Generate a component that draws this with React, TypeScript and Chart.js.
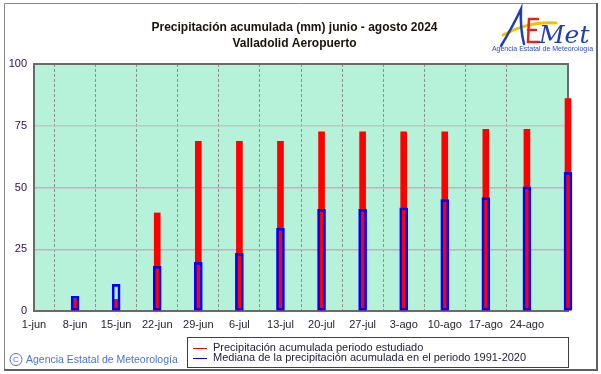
import React, { useEffect, useRef } from "react";
import { Chart, registerables } from "chart.js";

Chart.register(...registerables);

// ---- Data ----
const dayOffsets = [7, 14, 21, 28, 35, 42, 49, 56, 63, 70, 77, 84, 91];
const observedPrecip = [4.7, 4.7, 39.7, 68.7, 68.7, 68.7, 72.5, 72.5, 72.5, 72.5, 73.6, 73.6, 86.0];
const medianPrecip = [5.9, 10.8, 18.1, 19.7, 23.4, 33.5, 41.2, 41.2, 41.8, 45.1, 45.9, 50.3, 56.1];
const xTickLabels = ["1-jun", "8-jun", "15-jun", "22-jun", "29-jun", "6-jul", "13-jul", "20-jul", "27-jul", "3-ago", "10-ago", "17-ago", "24-ago"];
const yTicks = [0, 25, 50, 75, 100];
const titleLines = ["Precipitación acumulada (mm) junio - agosto 2024", "Valladolid Aeropuerto"];
const seriesLabels = ["Precipitación acumulada periodo estudiado", "Mediana de la precipitación acumulada en el periodo 1991-2020"];
const footerText = "Agencia Estatal de Meteorología";

const FONT = "'Liberation Sans', Arial, sans-serif";
const W = 601;
const H = 374;

const decorPlugin = {
  id: "decor",
  beforeDraw(chart: any) {
    const { ctx, chartArea } = chart;
    ctx.save();
    ctx.fillStyle = "#ffffff";
    ctx.fillRect(0, 0, W, H);
    // plot background
    ctx.fillStyle = "#b6f2da";
    ctx.fillRect(chartArea.left, chartArea.top, chartArea.right - chartArea.left, chartArea.bottom - chartArea.top);
    ctx.restore();
  },
  beforeDatasetsDraw(chart: any) {
    const { ctx, chartArea } = chart;
    ctx.save();
    ctx.strokeStyle = "#6a6a6a";
    ctx.lineWidth = 2;
    ctx.strokeRect(chartArea.left, chartArea.top, chartArea.right - chartArea.left, chartArea.bottom - chartArea.top);
    ctx.restore();
  },
  afterDraw(chart: any) {
    const { ctx } = chart;
    ctx.save();
    // outer frame
    ctx.strokeStyle = "#8a8a8a";
    ctx.lineWidth = 1;
    ctx.beginPath();
    ctx.moveTo(4.5, 370);
    ctx.lineTo(4.5, 3.5);
    ctx.lineTo(597, 3.5);
    ctx.stroke();
    ctx.strokeStyle = "#606060";
    ctx.lineWidth = 2;
    ctx.beginPath();
    ctx.moveTo(597, 3);
    ctx.lineTo(597, 370);
    ctx.lineTo(4, 370);
    ctx.stroke();

    // title
    const cx = 294.5;
    ctx.fillStyle = "#1a1208";
    ctx.font = `bold 12px ${FONT}`;
    ctx.textAlign = "center";
    ctx.textBaseline = "middle";
    ctx.fillText(titleLines[0], cx, 27.5);
    ctx.fillText(titleLines[1], cx, 43.5);

    // legend
    const lx = 187, ly = 337, lw = 381, lh = 30;
    ctx.fillStyle = "#ffffff";
    ctx.fillRect(lx, ly, lw, lh);
    ctx.strokeStyle = "#404040";
    ctx.lineWidth = 1;
    ctx.strokeRect(lx + 0.5, ly + 0.5, lw, lh);
    const ds = chart.data.datasets;
    const legendItems = [
      { label: ds[1].label, color: ds[1].backgroundColor, y: 348 },
      { label: ds[0].label, color: ds[0].borderColor, y: 358 },
    ];
    ctx.font = `11px ${FONT}`;
    ctx.textAlign = "left";
    for (const it of legendItems) {
      ctx.strokeStyle = it.color;
      ctx.lineWidth = 1;
      ctx.beginPath();
      ctx.moveTo(193, Math.round(it.y) + 0.5);
      ctx.lineTo(207, Math.round(it.y) + 0.5);
      ctx.stroke();
      ctx.fillStyle = "#1c1c3a";
      ctx.fillText(it.label, 213, it.y);
    }

    // footer
    ctx.strokeStyle = "#4a72d4";
    ctx.fillStyle = "#4a72d4";
    ctx.lineWidth = 1;
    ctx.beginPath();
    ctx.arc(16, 359.5, 6, 0, Math.PI * 2);
    ctx.stroke();
    ctx.font = `8px ${FONT}`;
    ctx.textAlign = "center";
    ctx.fillText("C", 16, 360);
    ctx.font = `10.5px ${FONT}`;
    ctx.textAlign = "left";
    ctx.fillText(footerText, 26, 360);

    // logo
    ctx.lineCap = "round";
    // yellow swoosh
    ctx.strokeStyle = "#f2c200";
    ctx.lineWidth = 3;
    ctx.beginPath();
    ctx.moveTo(503, 35);
    ctx.quadraticCurveTo(528, 21, 556, 23);
    ctx.stroke();
    // A
    ctx.strokeStyle = "#1f3fae";
    ctx.lineWidth = 2.5;
    ctx.beginPath();
    ctx.moveTo(501, 46);
    ctx.quadraticCurveTo(513, 26, 521, 9);
    ctx.quadraticCurveTo(520, 28, 524, 44);
    ctx.stroke();
    // E
    ctx.strokeStyle = "#e0261a";
    ctx.lineWidth = 2.5;
    ctx.beginPath();
    ctx.moveTo(538, 19);
    ctx.lineTo(529, 19);
    ctx.lineTo(528, 42);
    ctx.lineTo(539, 42);
    ctx.moveTo(528, 30);
    ctx.lineTo(536, 30);
    ctx.stroke();
    // Met
    ctx.fillStyle = "#1f3fae";
    ctx.font = `italic 25px 'DejaVu Serif', serif`;
    ctx.textAlign = "left";
    ctx.textBaseline = "alphabetic";
    ctx.fillText("Met", 539, 43);
    ctx.font = `7px ${FONT}`;
    ctx.fillStyle = "#2a4cb8";
    ctx.textAlign = "center";
    ctx.textBaseline = "middle";
    ctx.fillText(footerText, 542.5, 49.5);
    ctx.restore();
  },
};

export default function App() {
  const canvasRef = useRef<HTMLCanvasElement | null>(null);

  useEffect(() => {
    document.body.style.margin = "0";
    const canvas = canvasRef.current;
    if (!canvas) return;
    const chart = new Chart(canvas, {
      type: "bar",
      data: {
        datasets: [
          {
            label: seriesLabels[1],
            data: dayOffsets.map((d, i) => ({ x: d, y: medianPrecip[i] })),
            backgroundColor: "rgba(0,0,0,0)",
            borderColor: "#0000ff",
            borderWidth: 2,
            borderSkipped: false,
            barThickness: 8,
            grouped: false,
            clip: false,
          } as any,
          {
            label: seriesLabels[0],
            data: dayOffsets.map((d, i) => ({ x: d, y: observedPrecip[i] })),
            backgroundColor: "#ff0000",
            borderWidth: 0,
            barThickness: 6,
            grouped: false,
            clip: false,
          } as any,
        ],
      },
      options: {
        responsive: false,
        animation: false,
        events: [],
        layout: { padding: { left: 0, right: 33, top: 64, bottom: 0 } },
        plugins: { legend: { display: false }, tooltip: { enabled: false }, title: { display: false } },
        scales: {
          x: {
            type: "linear",
            offset: false,
            min: 0,
            max: 91,
            afterBuildTicks: (scale: any) => {
              scale.ticks = [...xTickLabels.map((_, i) => ({ value: i * 7 })), { value: 91 }];
            },
            afterFit: (scale: any) => {
              scale.height = 63;
            },
            ticks: {
              autoSkip: false,
              maxRotation: 0,
              padding: 7,
              color: "#1e1e2e",
              font: { family: FONT, size: 11 },
              callback: (v: any) => {
                const i = Math.round(Number(v) / 7);
                return xTickLabels[i] ?? "";
              },
            },
            grid: {
              drawTicks: false,
              color: (c: any) => (c.tick && (c.tick.value === 0 || c.tick.value === 91) ? "rgba(0,0,0,0)" : "#8e8e8e"),
              lineWidth: 1,
            },
            border: { display: false, dash: [3, 2] },
          },
          y: {
            min: 0,
            max: 100,
            afterBuildTicks: (scale: any) => {
              scale.ticks = yTicks.map((v) => ({ value: v }));
            },
            afterFit: (scale: any) => {
              scale.width = 34;
            },
            ticks: {
              padding: 7,
              color: "#2b0b4f",
              font: { family: FONT, size: 11 },
            },
            grid: {
              drawTicks: false,
              color: (c: any) => (c.tick && c.tick.value === 75 ? "#c4c4c4" : "#caa8ca"),
              lineWidth: 1.5,
            },
            border: { display: false },
          },
        },
      } as any,
      plugins: [decorPlugin],
    });
    return () => chart.destroy();
  }, []);

  return (
    <div style={{ width: W, height: H }}>
      <canvas ref={canvasRef} width={W} height={H} style={{ display: "block", width: W, height: H }} />
    </div>
  );
}
